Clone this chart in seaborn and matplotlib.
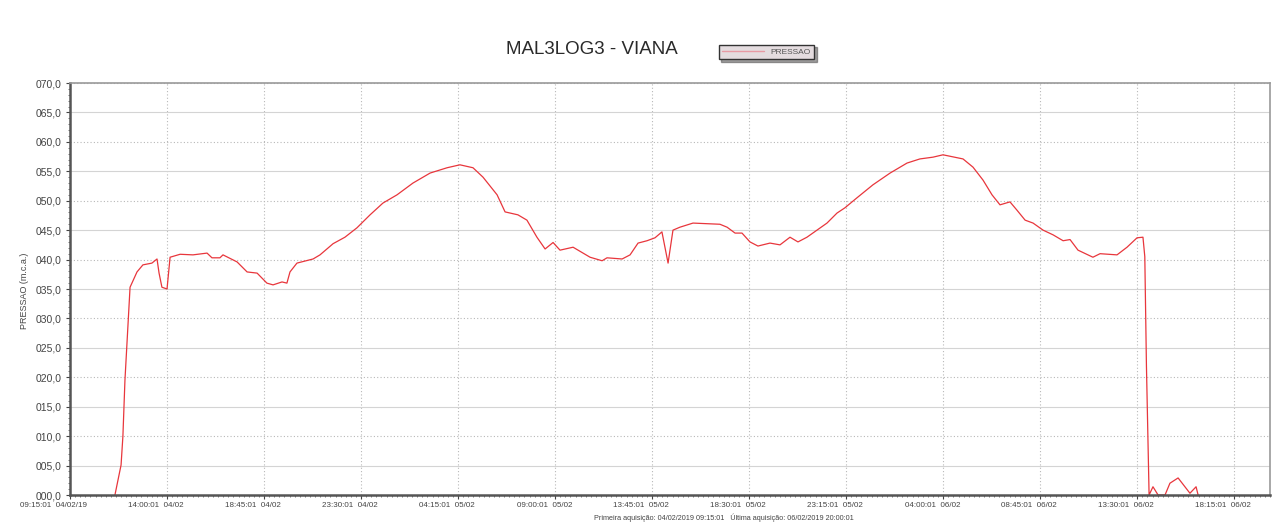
import numpy as np
import pandas as pd
import seaborn as sns
import matplotlib.pyplot as plt
import matplotlib.ticker as ticker
from matplotlib.transforms import ScaledTranslation

title = "MAL3LOG3 - VIANA"
series_name = "PRESSAO"
y_label = "PRESSAO (m.c.a.)"
footer = "Primeira aquisição: 04/02/2019 09:15:01   Última aquisição: 06/02/2019 20:00:01"

# horas desde 04/02/2019 09:15:01
hours = [2.20, 2.50, 2.59, 2.69, 2.94, 3.28, 3.57, 4.01, 4.26, 4.36, 4.50, 4.75,
         4.90, 5.39, 6.02, 6.71, 6.95, 7.34, 7.49, 8.18, 8.67, 9.16, 9.64, 9.94,
         10.38, 10.62, 10.77, 11.11, 11.90, 12.24, 12.88, 13.46, 14.05, 14.69,
         15.32, 16.01, 16.79, 17.63, 18.46, 19.09, 19.73, 20.22, 20.91, 21.30,
         21.93, 22.37, 22.86, 23.26, 23.65, 23.99, 24.63, 25.46, 26.05, 26.29,
         27.03, 27.42, 27.81, 28.25, 28.64, 28.98, 29.28, 29.52, 29.86, 30.50,
         31.82, 32.17, 32.56, 32.90, 33.29, 33.68, 34.27, 34.76, 35.25, 35.64,
         36.08, 36.57, 37.06, 37.55, 37.94, 38.53, 39.31, 40.15, 40.98, 41.61,
         42.25, 42.74, 43.72, 44.21, 44.70, 45.14, 45.53, 46.02, 46.36, 46.76,
         47.15, 47.64, 48.13, 48.62, 48.96, 49.35, 50.08, 50.43, 51.26, 51.75,
         52.24, 52.53, 52.62, 52.70, 52.83, 53.02, 53.27, 53.61, 53.85, 54.25,
         54.83, 55.13, 55.23]
pressure = [0.0, 5.1, 10.0, 19.5, 35.3, 37.9, 39.1, 39.4, 40.1, 37.7, 35.3, 35.0,
            40.4, 40.9, 40.8, 41.1, 40.3, 40.3, 40.8, 39.6, 37.9, 37.7, 36.0, 35.7,
            36.2, 36.0, 37.9, 39.4, 40.1, 40.8, 42.7, 43.8, 45.4, 47.6,
            49.6, 51.0, 53.0, 54.7, 55.6, 56.1, 55.6, 54.0, 51.0, 48.1,
            47.6, 46.7, 43.8, 41.8, 42.9, 41.6, 42.1, 40.4, 39.8, 40.3,
            40.1, 40.8, 42.8, 43.2, 43.7, 44.7, 39.4, 45.0, 45.5, 46.2,
            46.0, 45.5, 44.5, 44.5, 43.0, 42.3, 42.8, 42.5, 43.8, 43.0,
            43.8, 45.0, 46.2, 47.9, 48.8, 50.5, 52.7, 54.7, 56.4, 57.1,
            57.4, 57.8, 57.1, 55.7, 53.5, 51.0, 49.3, 49.8, 48.4, 46.7,
            46.2, 45.0, 44.2, 43.2, 43.4, 41.6, 40.4, 41.0, 40.8, 42.1,
            43.7, 43.8, 40.5, 22.0, 0.0, 1.4, 0.0, 0.0, 2.0, 2.9,
            0.3, 1.4, 0.0]

tick_labels = ["09:15:01  04/02/19", "14:00:01  04/02", "18:45:01  04/02",
               "23:30:01  04/02", "04:15:01  05/02", "09:00:01  05/02",
               "13:45:01  05/02", "18:30:01  05/02", "23:15:01  05/02",
               "04:00:01  06/02", "08:45:01  06/02", "13:30:01  06/02",
               "18:15:01  06/02"]

sns.set_style("white")
plt.rcParams['font.family'] = ['Liberation Sans', 'DejaVu Sans']

fig = plt.figure(figsize=(12.73, 5.24), dpi=100)
ax = fig.add_axes([0.05499, 0.05534, 0.94266, 0.78626])

df = pd.DataFrame({'horas': hours, 'pressao': pressure})
sns.lineplot(data=df, x='horas', y='pressao', color='#e8363c', linewidth=0.9,
             ax=ax, label=series_name)

ax.set_xlim(0, 58.75)
ax.set_ylim(0, 70)
ax.set_xlabel("")
ax.set_ylabel("")

ax.set_yticks(np.arange(0, 71, 5))
ax.yaxis.set_major_formatter(ticker.FuncFormatter(lambda v, p: f"{int(round(v)):03d},0"))
ax.yaxis.set_minor_locator(ticker.MultipleLocator(1))
ax.set_xticks(np.arange(len(tick_labels)) * 4.75)
ax.set_xticklabels(tick_labels)
ax.xaxis.set_minor_locator(ticker.MultipleLocator(0.25))

ax.tick_params(axis='y', which='major', labelsize=7.5, colors='#444444', length=3, pad=3)
ax.tick_params(axis='x', which='major', labelsize=5.8, colors='#444444', length=3, pad=2)
ax.tick_params(which='minor', length=1.5, color='#666666')
ax.tick_params(axis='both', which='both', direction='out', left=True, bottom=True)

shift = ScaledTranslation(17 / 100, 0, fig.dpi_scale_trans)
for lbl in ax.get_xticklabels():
    lbl.set_ha('right')
    lbl.set_transform(lbl.get_transform() + shift)

ax.grid(True, axis='x', color='#b8b8b8', linestyle=(0, (1, 2)), linewidth=0.8)
ax.grid(True, axis='y', color='#d4d4d4', linestyle='-', linewidth=0.8)
for val, gl in zip(ax.get_yticks(), ax.get_ygridlines()):
    if int(round(val)) % 10 == 0:
        gl.set_linestyle((0, (1, 2)))
        gl.set_color('#b8b8b8')

for side in ['left', 'bottom']:
    ax.spines[side].set_color('#555555')
    ax.spines[side].set_linewidth(1.8)
for side in ['top', 'right']:
    ax.spines[side].set_color('#9a9a9a')
    ax.spines[side].set_linewidth(1.2)

leg = ax.legend(loc='center', bbox_to_anchor=(0.602, 0.901), bbox_transform=fig.transFigure,
                shadow=True, fancybox=False, frameon=True, facecolor='#e4dcdf',
                edgecolor='#333333', fontsize=6, handlelength=5, borderpad=0.4,
                handletextpad=0.8, framealpha=1)
for line in leg.get_lines():
    line.set_color('#e89aa4')
    line.set_linewidth(1.0)
for txt in leg.get_texts():
    txt.set_color('#555555')

fig.text(0.465, 0.9046, title, ha='center', va='center', fontsize=13.5, color='#2a2a2a')
fig.text(25 / 1273, 1 - 291 / 524, y_label, rotation=90, ha='center', va='center',
         fontsize=6.5, color='#444444')
fig.text(724 / 1273, 1 - 518 / 524, footer, ha='center', va='center',
         fontsize=5.2, color='#444444')

fig.savefig("out.png", dpi=100)
